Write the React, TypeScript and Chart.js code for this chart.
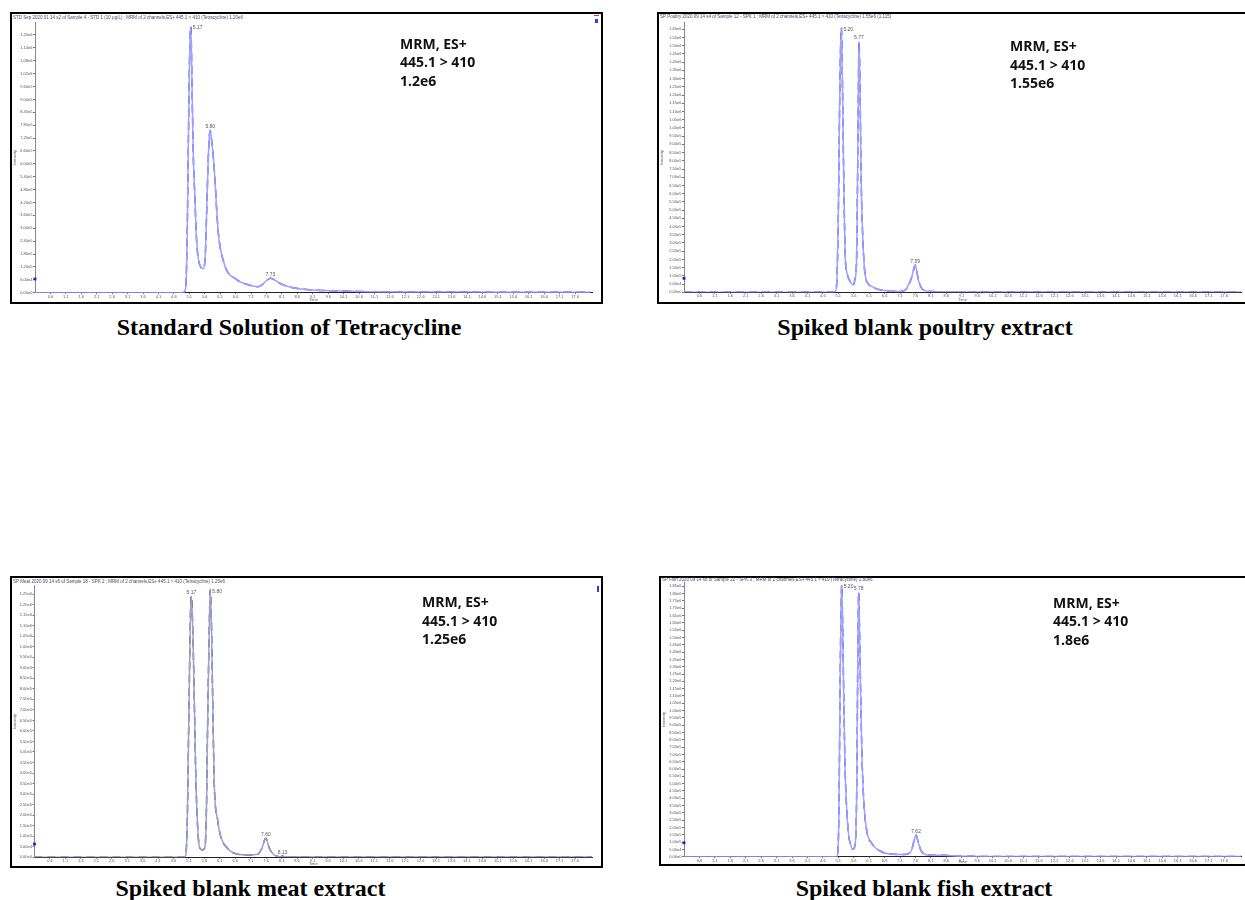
import React, { useEffect, useRef } from "react";
import { Chart, registerables } from "chart.js";
Chart.register(...registerables);

// ---------- shared axis ticks ----------
const xTickLabels = ["0.6","1.1","1.6","2.1","2.6","3.1","3.6","4.1","4.6","5.1","5.6","6.1","6.6","7.1","7.6","8.1","8.6","9.1","9.6","10.1","10.6","11.1","11.6","12.1","12.6","13.1","13.6","14.1","14.6","15.1","15.6","16.1","16.6","17.1","17.6"];
const xMin = 0.1;
const xMax = 18.15;

// ---------- Standard solution ----------
const stdTime = [0.1, 2.0, 4.0, 4.90, 4.98, 5.03, 5.07, 5.11, 5.15, 5.19, 5.23, 5.28, 5.33, 5.39, 5.47, 5.55, 5.62, 5.66, 5.70, 5.75, 5.78, 5.83, 5.88, 5.93, 5.99, 6.04, 6.09, 6.20, 6.31, 6.42, 6.58, 6.74, 6.96, 7.17, 7.33, 7.49, 7.60, 7.73, 7.87, 8.03, 8.25, 8.46, 9.10, 10.0, 10.94, 12.0, 13.5, 15.0, 16.5, 18.1];
const stdIntensity = [0, 0, 0, 0, 2e4, 2.5e5, 7e5, 1.1e6, 1.24e6, 9.5e5, 6.4e5, 4.5e5, 2.6e5, 1.6e5, 1.2e5, 1.12e5, 1.8e5, 3.6e5, 5.6e5, 7.3e5, 7.55e5, 7.0e5, 6.3e5, 5.3e5, 3.8e5, 2.8e5, 2.2e5, 1.5e5, 1.05e5, 8.2e4, 6.7e4, 5.1e4, 3.9e4, 3.1e4, 2.8e4, 4e4, 5.6e4, 6.7e4, 5.9e4, 4.4e4, 3.1e4, 2.3e4, 1.25e4, 8e3, 4.7e3, 3.5e3, 3e3, 2.5e3, 2e3, 2e3];
const stdYTicks = [0, 6e4, 1.2e5, 1.8e5, 2.4e5, 3e5, 3.6e5, 4.2e5, 4.8e5, 5.4e5, 6e5, 6.6e5, 7.2e5, 7.8e5, 8.4e5, 9e5, 9.6e5, 1.02e6, 1.08e6, 1.14e6, 1.2e6];
const stdPeakTimes = [5.15, 5.78, 7.73];
const stdPeakHeights = [1.24e6, 7.55e5, 6.7e4];
const stdPeakLabels = ["5.17", "5.80", "7.73"];
const stdMarker = [6.4e4];

// ---------- Poultry ----------
const poultryTime = [0.1, 2.0, 4.0, 4.95, 5.01, 5.06, 5.10, 5.14, 5.17, 5.20, 5.24, 5.28, 5.33, 5.38, 5.43, 5.52, 5.59, 5.64, 5.69, 5.72, 5.75, 5.77, 5.80, 5.84, 5.88, 5.93, 5.98, 6.08, 6.20, 6.35, 6.52, 6.72, 6.90, 7.05, 7.20, 7.30, 7.37, 7.44, 7.49, 7.55, 7.59, 7.64, 7.70, 7.76, 7.82, 7.92, 8.02, 8.5, 10, 12, 14, 16, 18.15];
const poultryIntensity = [0, 0, 0, 0, 5e3, 1e5, 4.5e5, 1.1e6, 1.45e6, 1.61e6, 1.2e6, 6.5e5, 2e5, 1.2e5, 8.7e4, 5.5e4, 4.4e4, 8e4, 1.8e5, 6e5, 1.2e6, 1.525e6, 1.3e6, 7e5, 4e5, 1.9e5, 9.5e4, 5e4, 3.4e4, 2e4, 1.4e4, 8e3, 6e3, 5e3, 8e3, 1.8e4, 4.4e4, 7e4, 1e5, 1.45e5, 1.66e5, 1.3e5, 7e4, 4e4, 2e4, 1e4, 6e3, 3e3, 2e3, 2e3, 2e3, 2e3, 2e3];
const poultryYTicks = [0, 5e4, 1e5, 1.5e5, 2e5, 2.5e5, 3e5, 3.5e5, 4e5, 4.5e5, 5e5, 5.5e5, 6e5, 6.5e5, 7e5, 7.5e5, 8e5, 8.5e5, 9e5, 9.5e5, 1e6, 1.05e6, 1.1e6, 1.15e6, 1.2e6, 1.25e6, 1.3e6, 1.35e6, 1.4e6, 1.45e6, 1.5e6, 1.55e6, 1.6e6];
const poultryPeakTimes = [5.20, 5.77, 7.59];
const poultryPeakHeights = [1.61e6, 1.525e6, 1.66e5];
const poultryPeakLabels = ["5.20", "5.77", "7.59"];
const poultryMarker = [8.5e4];

// ---------- Meat ----------
const meatTime = [0.1, 2.0, 4.0, 4.95, 5.00, 5.05, 5.10, 5.15, 5.18, 5.23, 5.28, 5.32, 5.38, 5.45, 5.54, 5.62, 5.67, 5.70, 5.76, 5.79, 5.83, 5.88, 5.92, 6.03, 6.13, 6.35, 6.57, 7.00, 7.33, 7.46, 7.59, 7.70, 7.86, 8.05, 8.13, 8.22, 9.0, 11, 13, 15, 18.15];
const meatIntensity = [0, 0, 0, 0, 1e4, 2e5, 7e5, 1.15e6, 1.24e6, 1.05e6, 7e5, 4e5, 1.5e5, 4.4e4, 3.5e4, 5e4, 2.5e5, 5.8e5, 1.1e6, 1.27e6, 1.1e6, 6.5e5, 3.5e5, 1.77e5, 9.8e4, 4.3e4, 1.9e4, 1.1e4, 1.4e4, 4.3e4, 9e4, 4.4e4, 1.1e4, 3e3, 6e3, 2.5e3, 2e3, 2e3, 2e3, 2e3, 2e3];
const meatYTicks = [0, 5e4, 1e5, 1.5e5, 2e5, 2.5e5, 3e5, 3.5e5, 4e5, 4.5e5, 5e5, 5.5e5, 6e5, 6.5e5, 7e5, 7.5e5, 8e5, 8.5e5, 9e5, 9.5e5, 1e6, 1.05e6, 1.1e6, 1.15e6, 1.2e6, 1.25e6];
const meatPeakTimes = [5.18, 5.79, 7.59, 8.13];
const meatPeakHeights = [1.24e6, 1.27e6, 9e4, 6e3];
const meatPeakLabels = ["5.17", "5.80", "7.60", "8.13"];
const meatMarker = [6.3e4];

// ---------- Fish ----------
const fishTime = [0.1, 2.0, 4.0, 5.04, 5.08, 5.12, 5.16, 5.19, 5.21, 5.24, 5.28, 5.32, 5.38, 5.44, 5.49, 5.57, 5.65, 5.70, 5.73, 5.76, 5.80, 5.86, 5.92, 6.02, 6.19, 6.46, 6.78, 7.21, 7.40, 7.48, 7.57, 7.62, 7.70, 7.80, 7.97, 8.5, 9.0, 10.5, 12, 14, 16, 18.15];
const fishIntensity = [0, 0, 0, 0, 2e4, 3e5, 1.2e6, 1.7e6, 1.86e6, 1.6e6, 1.05e6, 6e5, 3e5, 1.4e5, 9e4, 5e4, 9e4, 5e5, 1.3e6, 1.81e6, 1.4e6, 7.5e5, 4e5, 1.8e5, 9e4, 3.9e4, 1.8e4, 1.5e4, 2.5e4, 4.6e4, 1.25e5, 1.48e5, 9e4, 3.4e4, 1.2e4, 1e4, 3e3, 2e3, 2e3, 2e3, 2e3, 2e3];
const fishYTicks = [0, 5e4, 1e5, 1.5e5, 2e5, 2.5e5, 3e5, 3.5e5, 4e5, 4.5e5, 5e5, 5.5e5, 6e5, 6.5e5, 7e5, 7.5e5, 8e5, 8.5e5, 9e5, 9.5e5, 1e6, 1.05e6, 1.1e6, 1.15e6, 1.2e6, 1.25e6, 1.3e6, 1.35e6, 1.4e6, 1.45e6, 1.5e6, 1.55e6, 1.6e6, 1.65e6, 1.7e6, 1.75e6, 1.8e6, 1.85e6];
const fishPeakTimes = [5.21, 5.76, 7.62];
const fishPeakHeights = [1.86e6, 1.81e6, 1.48e5];
const fishPeakLabels = ["5.20", "5.78", "7.62"];
const fishMarker = [9.5e4];

// ---------- texts ----------
const captions = ["Standard Solution of Tetracycline", "Spiked blank poultry extract", "Spiked blank meat extract", "Spiked blank fish extract"];
const annotations = [
  ["MRM, ES+", "445.1 > 410", "1.2e6"],
  ["MRM, ES+", "445.1 > 410", "1.55e6"],
  ["MRM, ES+", "445.1 > 410", "1.25e6"],
  ["MRM, ES+", "445.1 > 410", "1.8e6"],
];
const headers = [
  "STD Sep 2020 01 14 s2 of Sample 4 - STD 1 (10 µg/L) ; MRM of 2 channels,ES+ 445.1 > 410 (Tetracycline) 1.20e6",
  "SP Poultry 2020 09 14 s4 of Sample 12 - SPK 1 ; MRM of 2 channels,ES+ 445.1 > 410 (Tetracycline) 1.55e6 (1.115)",
  "SP Meat 2020 09 14 s6 of Sample 18 - SPK 2 ; MRM of 2 channels,ES+ 445.1 > 410 (Tetracycline) 1.25e6",
  "SP Fish 2020 09 14 s8 of Sample 22 - SPK 3 ; MRM of 2 channels,ES+ 445.1 > 410 (Tetracycline) 1.80e6",
];

const fmtY = (v: number) => v.toExponential(2).replace("e+", "e");

type PanelCfg = {
  t: number[]; v: number[]; yTicks: number[]; yMax: number;
  peakT: number[]; peakV: number[]; peakL: string[]; peakAlign: string[];
  marker: number[];
  left: number; top: number; w: number; h: number;
  yW: number; xH: number; padTop: number; padRight: number;
  dark: string; light: string; markerColor: string;
};

function Panel({ cfg }: { cfg: PanelCfg }) {
  const ref = useRef<HTMLCanvasElement>(null);
  useEffect(() => {
    const pts = cfg.t.map((x, i) => ({ x, y: cfg.v[i] }));
    const peakPlugin = {
      id: "peakLabels",
      afterDatasetsDraw(chart: any) {
        const { ctx, scales } = chart;
        const xs = scales.x, ys = scales.y;
        ctx.save();
        ctx.font = '5px "Liberation Sans", Arial, sans-serif';
        ctx.fillStyle = "#555";
        ctx.textBaseline = "bottom";
        cfg.peakT.forEach((t, i) => {
          const px = xs.getPixelForValue(t);
          const py = ys.getPixelForValue(cfg.peakV[i]);
          if (cfg.peakAlign[i] === "right") {
            ctx.textAlign = "left";
            ctx.fillText(cfg.peakL[i], px + 2, py + 4);
          } else {
            ctx.textAlign = "center";
            ctx.fillText(cfg.peakL[i], px, py - 1);
          }
        });
        ctx.restore();
      },
    };
    const chart = new Chart(ref.current as HTMLCanvasElement, {
      type: "line",
      data: {
        datasets: [
          { data: pts, borderColor: cfg.light, borderWidth: 1.5, pointRadius: 0, cubicInterpolationMode: "monotone", fill: false } as any,
          { data: pts, borderColor: cfg.dark, borderWidth: 1.5, borderDash: [8, 5], pointRadius: 0, cubicInterpolationMode: "monotone", fill: false } as any,
          { type: "scatter", data: [{ x: xMin, y: cfg.marker[0] }], pointRadius: 2, pointStyle: "rect", backgroundColor: cfg.markerColor, borderWidth: 0, clip: false, showLine: false } as any,
        ],
      },
      options: {
        animation: false,
        responsive: false,
        maintainAspectRatio: false,
        layout: { padding: { top: cfg.padTop, right: cfg.padRight, left: 0, bottom: 0 } },
        plugins: { legend: { display: false }, tooltip: { enabled: false } },
        scales: {
          x: {
            type: "linear",
            min: xMin,
            max: xMax,
            afterFit: (s: any) => { s.height = cfg.xH; },
            afterBuildTicks: (s: any) => { s.ticks = xTickLabels.map((l) => ({ value: Number(l) })); },
            ticks: {
              autoSkip: false, maxRotation: 0, padding: 0, color: "#555",
              font: { size: 4, family: '"Liberation Sans", Arial' },
              callback: (_v: any, i: number) => xTickLabels[i],
            },
            grid: { drawOnChartArea: false, tickLength: 1.5, color: "#777" },
            border: { color: "#222", width: 1 },
            title: { display: true, text: "Time", color: "#555", font: { size: 4, family: '"Liberation Sans", Arial' }, padding: 0 },
          },
          y: {
            type: "linear",
            min: 0,
            max: cfg.yMax,
            afterFit: (s: any) => { s.width = cfg.yW; },
            afterBuildTicks: (s: any) => { s.ticks = cfg.yTicks.map((v) => ({ value: v })); },
            ticks: {
              autoSkip: false, padding: 0.5, color: "#555",
              font: { size: 4, family: '"Liberation Sans", Arial' },
              callback: (v: any) => fmtY(Number(v)),
            },
            grid: { drawOnChartArea: false, tickLength: 2, color: "#777" },
            border: { color: "#888", width: 1 },
            title: { display: true, text: "Intensity", color: "#555", font: { size: 4, family: '"Liberation Sans", Arial' }, padding: 0 },
          },
        },
      },
      plugins: [peakPlugin],
    });
    return () => chart.destroy();
  }, []);
  return (
    <canvas
      ref={ref}
      width={cfg.w}
      height={cfg.h}
      style={{ position: "absolute", left: cfg.left, top: cfg.top, width: cfg.w, height: cfg.h }}
    />
  );
}

const blueDark = "#3434f4";
const blueLight = "#a0a0ff";

const panels: PanelCfg[] = [
  { t: stdTime, v: stdIntensity, yTicks: stdYTicks, yMax: 1.26e6, peakT: stdPeakTimes, peakV: stdPeakHeights, peakL: stdPeakLabels, peakAlign: ["right", "center", "center"], marker: stdMarker,
    left: 12, top: 14, w: 589, h: 288, yW: 23, xH: 9.3, padTop: 8.1, padRight: 9, dark: blueDark, light: blueLight, markerColor: "#1f1fd0" },
  { t: poultryTime, v: poultryIntensity, yTicks: poultryYTicks, yMax: 1.64e6, peakT: poultryPeakTimes, peakV: poultryPeakHeights, peakL: poultryPeakLabels, peakAlign: ["right", "center", "center"], marker: poultryMarker,
    left: 659, top: 14, w: 586, h: 288, yW: 25, xH: 9.7, padTop: 8.7, padRight: 4, dark: blueDark, light: blueLight, markerColor: "#1f1fd0" },
  { t: meatTime, v: meatIntensity, yTicks: meatYTicks, yMax: 1.29e6, peakT: meatPeakTimes, peakV: meatPeakHeights, peakL: meatPeakLabels, peakAlign: ["center", "right", "center", "center"], marker: meatMarker,
    left: 12, top: 578, w: 589, h: 288, yW: 22.5, xH: 8.7, padTop: 7.6, padRight: 9, dark: "#3a3a72", light: "#a0a0c8", markerColor: "#1f1fd0" },
  { t: fishTime, v: fishIntensity, yTicks: fishYTicks, yMax: 1.88e6, peakT: fishPeakTimes, peakV: fishPeakHeights, peakL: fishPeakLabels, peakAlign: ["right", "center", "center"], marker: fishMarker,
    left: 661, top: 578, w: 584, h: 286, yW: 23, xH: 7.3, padTop: 2.6, padRight: 2, dark: blueDark, light: blueLight, markerColor: "#1f1fd0" },
];

const boxes = [
  { left: 10, top: 12, width: 593, height: 292 },
  { left: 657, top: 12, width: 600, height: 292 },
  { left: 10, top: 576, width: 593, height: 292 },
  { left: 659, top: 576, width: 600, height: 290 },
];
const headerPos = [
  { left: 13, top: 14.5 },
  { left: 660, top: 14 },
  { left: 13, top: 579 },
  { left: 662, top: 576.5 },
];
const annotPos = [
  { left: 400, top: 34.5 },
  { left: 1010, top: 37 },
  { left: 422, top: 593 },
  { left: 1053, top: 593.5 },
];
const captionPos = [
  { center: 289, top: 315 },
  { center: 925, top: 315 },
  { center: 250.5, top: 876 },
  { center: 924, top: 876 },
];

export default function App() {
  return (
    <div style={{ position: "absolute", left: 0, top: 0, width: 1245, height: 900, overflow: "hidden", background: "#fff" }}>
      {boxes.map((b, i) => (
        <div key={"b" + i} style={{ position: "absolute", left: b.left, top: b.top, width: b.width, height: b.height, border: "2px solid #000", boxSizing: "border-box" }} />
      ))}
      {panels.map((p, i) => (
        <Panel key={"p" + i} cfg={p} />
      ))}
      {headers.map((h, i) => (
        <div key={"h" + i} style={{ position: "absolute", left: headerPos[i].left, top: headerPos[i].top, font: '4.5px "Liberation Sans", Arial, sans-serif', color: "#4a4a6a", whiteSpace: "nowrap", lineHeight: "5px" }}>{h}</div>
      ))}
      {annotations.map((a, i) => (
        <div key={"a" + i} style={{ position: "absolute", left: annotPos[i].left, top: annotPos[i].top, fontFamily: '"Open Sans", sans-serif', fontWeight: 700, fontSize: 14, lineHeight: "18.5px", color: "#111", whiteSpace: "nowrap" }}>
          {a.map((l, j) => (<div key={j}>{l}</div>))}
        </div>
      ))}
      {captions.map((c, i) => (
        <div key={"c" + i} style={{ position: "absolute", left: captionPos[i].center - 300, top: captionPos[i].top, width: 600, textAlign: "center", fontFamily: '"Liberation Serif", "Times New Roman", serif', fontWeight: 700, fontSize: 24, lineHeight: "24px", color: "#000", whiteSpace: "nowrap" }}>{c}</div>
      ))}
      <div style={{ position: "absolute", left: 594, top: 15, width: 5, height: 1, background: "#e03030" }} />
      <div style={{ position: "absolute", left: 595, top: 19, width: 3, height: 4, background: "#3a3ae0" }} />
      <div style={{ position: "absolute", left: 597, top: 586, width: 2, height: 6, background: "#3a3ae0" }} />
    </div>
  );
}
